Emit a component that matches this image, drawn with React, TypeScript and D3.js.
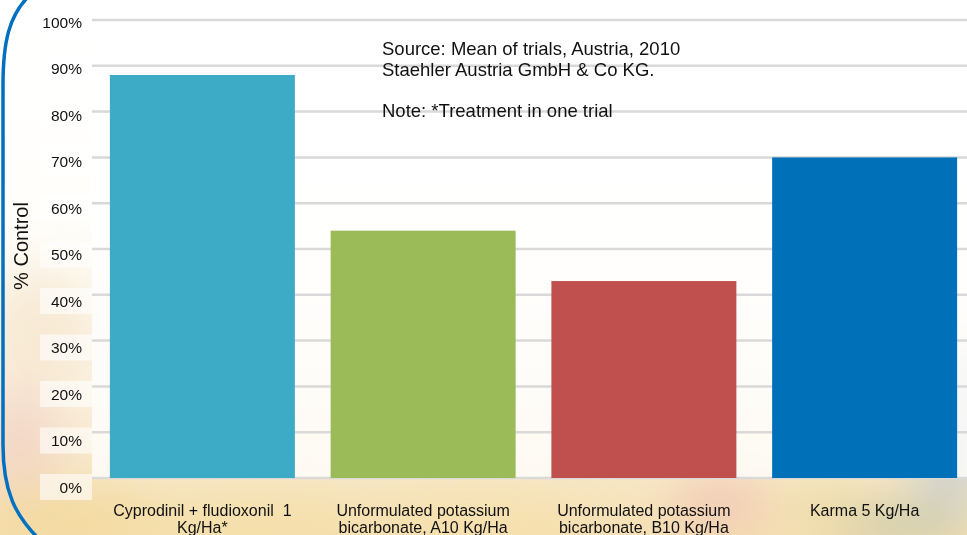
import React from "react";
import * as d3 from "d3";

const categories: string[][] = [
  ["Cyprodinil + fludioxonil  1", "Kg/Ha*"],
  ["Unformulated potassium", "bicarbonate, A10 Kg/Ha"],
  ["Unformulated potassium", "bicarbonate, B10 Kg/Ha"],
  ["Karma 5 Kg/Ha"],
];
const values: number[] = [0.88, 0.54, 0.43, 0.7];
const barColors: string[] = ["#3DAAC6", "#9BBB59", "#C0504D", "#0070B8"];
const yTicks: number[] = [0, 0.1, 0.2, 0.3, 0.4, 0.5, 0.6, 0.7, 0.8, 0.9, 1.0];
const notes: string[] = [
  "Source: Mean of trials, Austria, 2010",
  "Staehler Austria GmbH & Co KG.",
  "",
  "Note: *Treatment in one trial",
];

const W = 967;
const H = 535;
const FONT = "'Liberation Sans', Arial, Helvetica, sans-serif";

export default function App() {
  const keys = categories.map((_, i) => String(i));
  const x = d3.scaleBand<string>().domain(keys).range([92, 975]).paddingInner(0.162).paddingOuter(0.081);
  const y = d3.scaleLinear().domain([0, 1]).range([478, 20]);
  const yLabel = d3.scaleLinear().domain([0, 1]).range([487, 22]);
  const fmt = d3.format(".0%");

  return (
    <svg width={W} height={H} style={{ position: "absolute", left: 0, top: 0 }} fontFamily={FONT}>
      <defs>
        <filter id="blur" x="-50%" y="-50%" width="200%" height="200%">
          <feGaussianBlur stdDeviation="22" />
        </filter>
        <linearGradient id="bgGrad" x1="0" y1="0" x2="0" y2="1">
          <stop offset="0" stopColor="#ffffff" />
          <stop offset="0.4" stopColor="#fffefb" />
          <stop offset="0.75" stopColor="#faf0dc" />
          <stop offset="1" stopColor="#f5e0b4" />
        </linearGradient>
      </defs>
      <rect x={0} y={0} width={W} height={H} fill="url(#bgGrad)" />
      <g filter="url(#blur)">
        <ellipse cx={40} cy={330} rx={50} ry={60} fill="#f3e2c8" opacity={0.6} />
        <ellipse cx={20} cy={440} rx={40} ry={55} fill="#efc8c0" opacity={0.55} />
        <ellipse cx={70} cy={520} rx={90} ry={30} fill="#f3d89a" opacity={0.8} />
        <ellipse cx={250} cy={525} rx={120} ry={25} fill="#f5dfa6" opacity={0.8} />
        <ellipse cx={470} cy={525} rx={120} ry={25} fill="#f6e0a8" opacity={0.7} />
        <ellipse cx={720} cy={505} rx={50} ry={28} fill="#f0c2b4" opacity={0.7} />
        <ellipse cx={950} cy={430} rx={40} ry={90} fill="#b8c8d4" opacity={0.6} />
        <ellipse cx={900} cy={525} rx={70} ry={25} fill="#c4c8aa" opacity={0.7} />
        <ellipse cx={820} cy={510} rx={40} ry={25} fill="#e9d8a0" opacity={0.6} />
      </g>
      <rect x={92} y={0} width={W - 92} height={478} fill="#ffffff" opacity={0.78} />

      {/* gridlines */}
      {yTicks.map((t) => (
        <line key={"g" + t} x1={92} x2={W} y1={y(t)} y2={y(t)} stroke="#d9d9d9" strokeWidth={2.5} />
      ))}

      {/* y tick labels */}
      {yTicks.map((t) => (
        <g key={"l" + t}>
          <rect x={40} y={yLabel(t) - 13} width={52} height={26} fill="#ffffff" opacity={0.6} />
          <text x={82} y={yLabel(t)} dy="0.36em" textAnchor="end" fontSize={15.5} fill="#111">
            {fmt(t)}
          </text>
        </g>
      ))}

      {/* bars */}
      {values.map((v, i) => (
        <rect
          key={"b" + i}
          x={x(keys[i])}
          y={y(v)}
          width={x.bandwidth()}
          height={y(0) - y(v)}
          fill={barColors[i]}
        />
      ))}

      {/* category labels */}
      {categories.map((lines, i) => (
        <text
          key={"c" + i}
          x={(x(keys[i]) as number) + x.bandwidth() / 2}
          y={516}
          textAnchor="middle"
          fontSize={16}
          fill="#111"
          style={{ whiteSpace: "pre" }}
        >
          {lines.map((ln, j) => (
            <tspan key={j} x={(x(keys[i]) as number) + x.bandwidth() / 2} dy={j === 0 ? 0 : 17}>
              {ln}
            </tspan>
          ))}
        </text>
      ))}

      {/* axis title */}
      <text
        transform="translate(27.5,246) rotate(-90)"
        textAnchor="middle"
        fontSize={20}
        fill="#111"
      >
        % Control
      </text>

      {/* notes */}
      <text x={382} y={55} fontSize={18.5} fill="#111">
        {notes.map((n, i) => (
          <tspan key={i} x={382} dy={i === 0 ? 0 : 20.5}>
            {n === "" ? "\u00a0" : n}
          </tspan>
        ))}
      </text>

      {/* blue border */}
      <path
        d="M 27 -2 C 10 16, 3 40, 3 85 L 3 445 C 3 492, 16 516, 38 538"
        fill="none"
        stroke="#0070C0"
        strokeWidth={3.5}
      />
    </svg>
  );
}
